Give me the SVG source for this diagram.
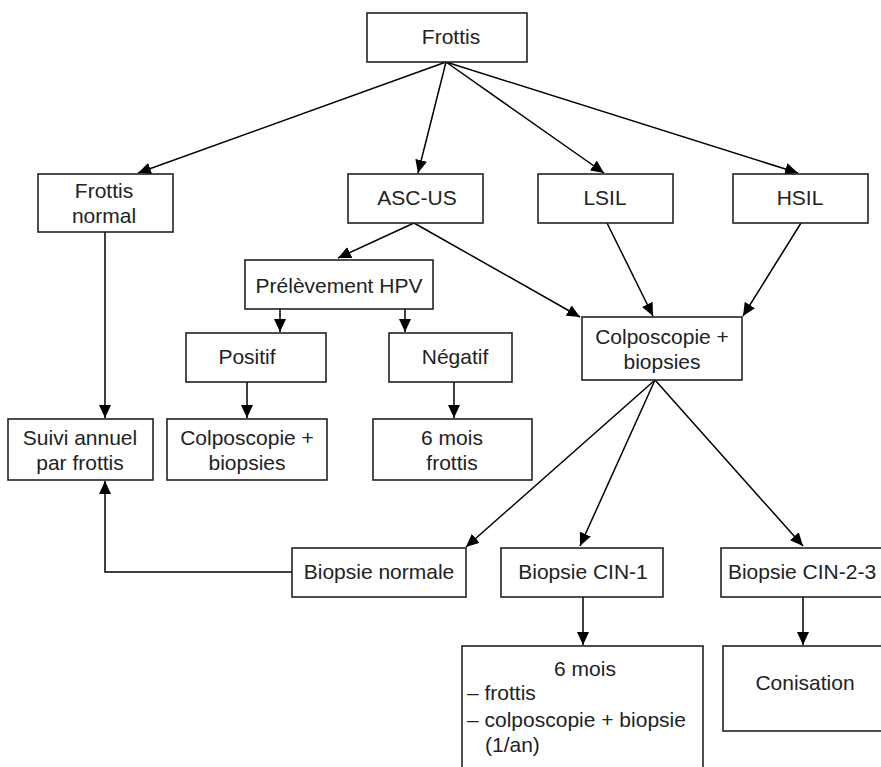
<svg xmlns="http://www.w3.org/2000/svg" width="881" height="767" viewBox="0 0 881 767">
<style>
.box{fill:#fff;stroke:#222;stroke-width:1.6}
.t{font-family:"Liberation Sans",Arial,sans-serif;font-size:21px;fill:#222;text-anchor:middle}
.l{text-anchor:start}
.c{fill:none;stroke:#000;stroke-width:1.5}
</style>
<defs>
<marker id="ah" markerUnits="userSpaceOnUse" markerWidth="14" markerHeight="12" viewBox="0 0 14 12" refX="13" refY="6" orient="auto">
<path d="M0,0 L13,6 L0,12 Z" fill="#000"/>
</marker>
</defs>
<rect width="881" height="767" fill="#fff"/>
<g id="connectors">
<line class="c" x1="446" y1="62" x2="138" y2="173" marker-end="url(#ah)"/>
<line class="c" x1="446" y1="62" x2="418" y2="173" marker-end="url(#ah)"/>
<line class="c" x1="446" y1="62" x2="604" y2="173" marker-end="url(#ah)"/>
<line class="c" x1="446" y1="62" x2="798" y2="173" marker-end="url(#ah)"/>
<line class="c" x1="414" y1="223" x2="338" y2="258" marker-end="url(#ah)"/>
<line class="c" x1="414" y1="223" x2="580" y2="317" marker-end="url(#ah)"/>
<line class="c" x1="607" y1="223" x2="653" y2="316" marker-end="url(#ah)"/>
<line class="c" x1="801" y1="223" x2="743" y2="316" marker-end="url(#ah)"/>
<line class="c" x1="280" y1="309" x2="280" y2="332" marker-end="url(#ah)"/>
<line class="c" x1="405" y1="309" x2="405" y2="332" marker-end="url(#ah)"/>
<line class="c" x1="247" y1="382" x2="247" y2="418" marker-end="url(#ah)"/>
<line class="c" x1="454" y1="382" x2="454" y2="418" marker-end="url(#ah)"/>
<line class="c" x1="105" y1="232" x2="105" y2="418" marker-end="url(#ah)"/>
<polyline class="c" points="292,572 105,572 105,481" marker-end="url(#ah)"/>
<line class="c" x1="655" y1="380" x2="466" y2="547" marker-end="url(#ah)"/>
<line class="c" x1="655" y1="380" x2="580" y2="546" marker-end="url(#ah)"/>
<line class="c" x1="655" y1="380" x2="803" y2="546" marker-end="url(#ah)"/>
<line class="c" x1="583" y1="597" x2="583" y2="645" marker-end="url(#ah)"/>
<line class="c" x1="803" y1="597" x2="803" y2="645" marker-end="url(#ah)"/>
</g>
<g id="frottis"><rect class="box" x="367" y="13" width="160" height="49"/><text class="t" x="451" y="44">Frottis</text></g>
<g id="frottis-normal"><rect class="box" x="38" y="174" width="135" height="58"/><text class="t" x="104" y="198">Frottis</text><text class="t" x="104" y="223">normal</text></g>
<g id="asc-us"><rect class="box" x="348" y="174" width="135" height="49"/><text class="t" x="417" y="205">ASC-US</text></g>
<g id="lsil"><rect class="box" x="538" y="174" width="135" height="49"/><text class="t" x="605" y="205">LSIL</text></g>
<g id="hsil"><rect class="box" x="733" y="174" width="135" height="49"/><text class="t" x="800" y="205">HSIL</text></g>
<g id="prelevement"><rect class="box" x="245" y="260" width="188" height="49"/><text class="t" x="339" y="293">Prélèvement HPV</text></g>
<g id="positif"><rect class="box" x="186" y="333" width="140" height="49"/><text class="t" x="247" y="364">Positif</text></g>
<g id="negatif"><rect class="box" x="389" y="333" width="123" height="49"/><text class="t" x="455" y="364">Négatif</text></g>
<g id="colpo-right"><rect class="box" x="582" y="317" width="160" height="63"/><text class="t" x="662" y="344">Colposcopie +</text><text class="t" x="662" y="369">biopsies</text></g>
<g id="suivi"><rect class="box" x="8" y="419" width="145" height="61"/><text class="t" x="80" y="445">Suivi annuel</text><text class="t" x="80" y="470">par frottis</text></g>
<g id="colpo-left"><rect class="box" x="167" y="419" width="160" height="61"/><text class="t" x="247" y="445">Colposcopie +</text><text class="t" x="247" y="470">biopsies</text></g>
<g id="six-mois"><rect class="box" x="373" y="419" width="159" height="61"/><text class="t" x="452" y="445">6 mois</text><text class="t" x="452" y="470">frottis</text></g>
<g id="biopsie-normale"><rect class="box" x="292" y="548" width="174" height="49"/><text class="t" x="379" y="579">Biopsie normale</text></g>
<g id="biopsie-cin1"><rect class="box" x="501" y="548" width="162" height="49"/><text class="t" x="583" y="579">Biopsie CIN-1</text></g>
<g id="biopsie-cin23"><rect class="box" x="721" y="548" width="170" height="49"/><text class="t" x="802" y="579">Biopsie CIN-2-3</text></g>
<g id="suivi-cin1"><rect class="box" x="462" y="646" width="241" height="130"/><text class="t" x="585" y="676">6 mois</text><text class="t l" x="467" y="700">– frottis</text><text class="t l" x="467" y="727">– colposcopie + biopsie</text><text class="t l" x="485" y="752">(1/an)</text></g>
<g id="conisation"><rect class="box" x="723" y="646" width="170" height="85"/><text class="t" x="805" y="690">Conisation</text></g>
</svg>
